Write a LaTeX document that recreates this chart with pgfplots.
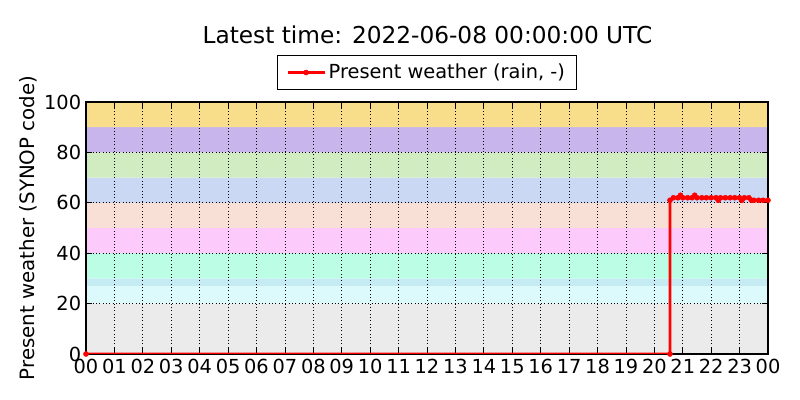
\documentclass[border=0pt]{standalone}
\usepackage{pgfplots}
\pgfplotsset{compat=1.18}
\usepackage{fontspec}
\setmainfont{DejaVu Sans}
\definecolor{bgray}{HTML}{EBEBEB}
\definecolor{bcyanA}{HTML}{DCFAFC}
\definecolor{bcyanB}{HTML}{C6ECF3}
\definecolor{bmint}{HTML}{BCFDE6}
\definecolor{bpink}{HTML}{FCCBFC}
\definecolor{bpeach}{HTML}{F9E0D7}
\definecolor{bblue}{HTML}{CAD8F4}
\definecolor{bgreen}{HTML}{D2ECC1}
\definecolor{blav}{HTML}{C8B5EC}
\definecolor{byell}{HTML}{F8DE8A}
\pgfplotstableread{
x y
0 0
20.55 0
20.55 61
20.67 62
20.83 62
20.92 63
21.0 62
21.17 62
21.33 62
21.42 63
21.5 62
21.67 62
21.83 62
22.0 62
22.17 62
22.25 61
22.33 62
22.5 62
22.67 62
22.83 62
23.0 62
23.08 61
23.17 62
23.33 62
23.42 61
23.5 61
23.67 61
23.83 61
24.0 61
}\wxdata
\begin{document}
\begin{tikzpicture}
\begin{axis}[
  set layers,
  at={(0.86in,0.46in)}, anchor=south west,
  scale only axis, width=6.82in, height=2.52in,
  xmin=0, xmax=24, ymin=0, ymax=100,
  xtick={0,...,24},
  xticklabels={00,01,02,03,04,05,06,07,08,09,10,11,12,13,14,15,16,17,18,19,20,21,22,23,00},
  ytick={0,20,40,60,80,100},
  tick align=inside,
  major tick length=4pt,
  xtick pos=both, ytick pos=both,
  tick style={black, line width=0.6pt},
  grid=major,
  major grid style={black, dotted, line width=0.6pt},
  axis line style={black, line width=0.9pt},
  ticklabel style={font=\fontsize{14}{16}\selectfont},
  xticklabel style={inner xsep=0pt},
  /pgf/number format/assume math mode=true,
  ylabel={Present weather (SYNOP code)},
  ylabel style={font=\fontsize{14.3}{16}\selectfont},
  ylabel shift=-2pt,
  legend style={at={(0.5,1.117)}, anchor=center, draw=black, line width=0.7pt,
    font=\fontsize{14}{16}\selectfont, inner xsep=6pt, inner ysep=4.5pt, fill=white},
  legend cell align=left,
  legend image code/.code={\draw[#1, mark repeat=2, mark phase=2] plot coordinates {(0cm,0cm) (0.47cm,0cm) (0.94cm,0cm)};},
]
\addplot[draw=none, fill=bgray, on layer=axis background, forget plot] coordinates {(0,0) (24,0) (24,20) (0,20) (0,0)};
\addplot[draw=none, fill=bcyanA, on layer=axis background, forget plot] coordinates {(0,20) (24,20) (24,27) (0,27) (0,20)};
\addplot[draw=none, fill=bcyanB, on layer=axis background, forget plot] coordinates {(0,27) (24,27) (24,30) (0,30) (0,27)};
\addplot[draw=none, fill=bmint, on layer=axis background, forget plot] coordinates {(0,30) (24,30) (24,40) (0,40) (0,30)};
\addplot[draw=none, fill=bpink, on layer=axis background, forget plot] coordinates {(0,40) (24,40) (24,50) (0,50) (0,40)};
\addplot[draw=none, fill=bpeach, on layer=axis background, forget plot] coordinates {(0,50) (24,50) (24,60) (0,60) (0,50)};
\addplot[draw=none, fill=bblue, on layer=axis background, forget plot] coordinates {(0,60) (24,60) (24,70) (0,70) (0,60)};
\addplot[draw=none, fill=bgreen, on layer=axis background, forget plot] coordinates {(0,70) (24,70) (24,80) (0,80) (0,70)};
\addplot[draw=none, fill=blav, on layer=axis background, forget plot] coordinates {(0,80) (24,80) (24,90) (0,90) (0,80)};
\addplot[draw=none, fill=byell, on layer=axis background, forget plot] coordinates {(0,90) (24,90) (24,100) (0,100) (0,90)};
\addplot[red, line width=2pt, mark=*, mark size=1.8pt, mark options={solid, fill=red, draw=red, line width=0.4pt}] table[x=x, y=y] {\wxdata};
\addlegendentry{Present weather (rain, -)}
\end{axis}
\node[font=\fontsize{16.8}{19}\selectfont] at (4.275in,3.65in) {Latest time: 2022-06-08 00:00:00 UTC};
\path[use as bounding box] (0,0) rectangle (8in,4in);
\end{tikzpicture}
\end{document}
